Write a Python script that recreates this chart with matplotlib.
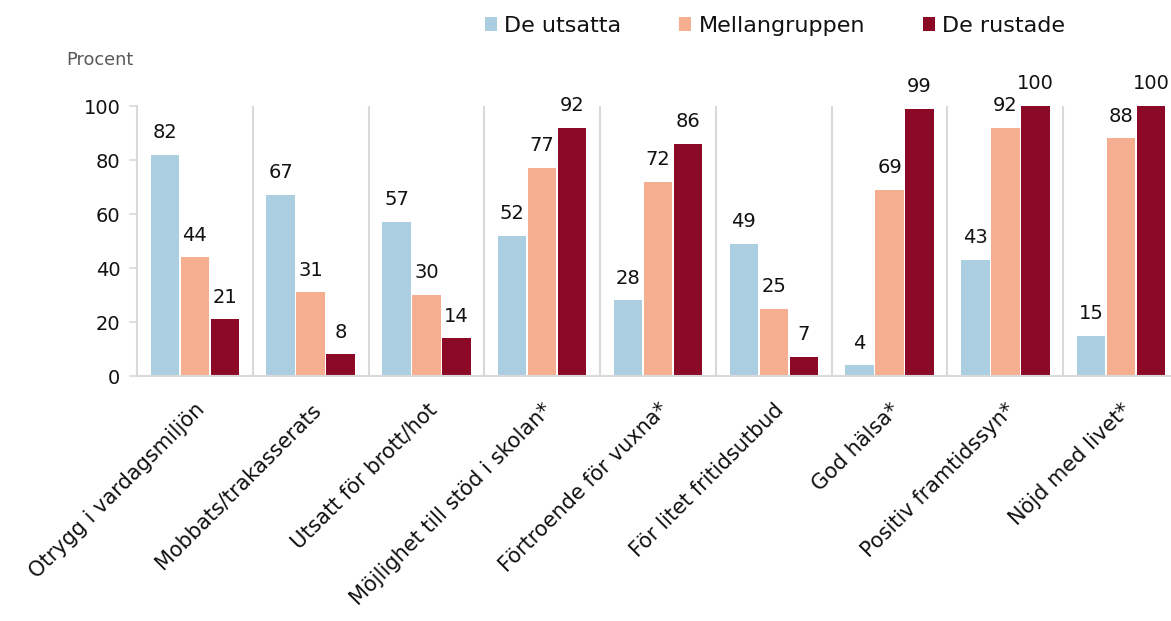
import matplotlib
matplotlib.use("Agg")
import matplotlib.pyplot as plt
from matplotlib.patches import Patch
import numpy as np

categories = ["Otrygg i vardagsmiljön", "Mobbats/trakasserats", "Utsatt för brott/hot",
              "Möjlighet till stöd i skolan*", "Förtroende för vuxna*", "För litet fritidsutbud",
              "God hälsa*", "Positiv framtidssyn*", "Nöjd med livet*"]
series_names = ["De utsatta", "Mellangruppen", "De rustade"]
utsatta = [82, 67, 57, 52, 28, 49, 4, 43, 15]
mellan = [44, 31, 30, 77, 72, 25, 69, 92, 88]
rustade = [21, 8, 14, 92, 86, 7, 99, 100, 100]
colors = ["#ABCFE0", "#F6AE90", "#8B0826"]
yticks = [0, 20, 40, 60, 80, 100]

plt.rcParams['font.family'] = ['DejaVu Sans']

W, H = 1171, 621
fig = plt.figure(figsize=(W/100, H/100), dpi=100)
ax = fig.add_axes([137/W, 245/H, (1179-137)/W, (515-245)/H])

x = np.arange(len(categories))
bw = 0.245
offs = [-0.259, 0, 0.259]
for vals, c, o in zip([utsatta, mellan, rustade], colors, offs):
    ax.bar(x + o, vals, width=bw, color=c, zorder=2)
    for xi, v in zip(x + o, vals):
        ax.annotate(str(v), (xi, v), xytext=(0, 12), textcoords="offset points",
                    ha="center", va="baseline", fontsize=14, color="#111111",
                    annotation_clip=False)

ax.set_xlim(-0.5, len(categories) - 0.5)
ax.set_ylim(0, 100)
ax.set_yticks(yticks)
ax.tick_params(axis='y', labelsize=14, length=6, color="#D9D9D9", width=1.2, pad=6,
               labelcolor="#111111")
ax.set_xticks(x)
ax.set_xticklabels(categories, rotation=45, ha="right", rotation_mode="anchor",
                   fontsize=15, color="#111111")
ax.tick_params(axis='x', length=0, pad=17)
for s in ["top", "right"]:
    ax.spines[s].set_visible(False)
for s in ["left", "bottom"]:
    ax.spines[s].set_color("#D9D9D9")
    ax.spines[s].set_linewidth(1.5)
for b in np.arange(0.5, len(categories) - 0.5, 1):
    ax.axvline(b, ymin=0, ymax=1, color="#D9D9D9", lw=1.5, zorder=1)

fig.text(66/W, 1 - 60/H, "Procent", fontsize=12.8, color="#595959", va="center", ha="left")

handles = [Patch(facecolor=c, edgecolor='none') for c in colors]
fig.legend(handles, series_names, loc="center", bbox_to_anchor=(775/W, 1 - 26/H),
           ncol=3, frameon=False, fontsize=16, handlelength=0.55, handleheight=0.55,
           handletextpad=0.32, columnspacing=2.6, borderpad=0, labelcolor="#111111")

fig.savefig("out.png", dpi=100)
